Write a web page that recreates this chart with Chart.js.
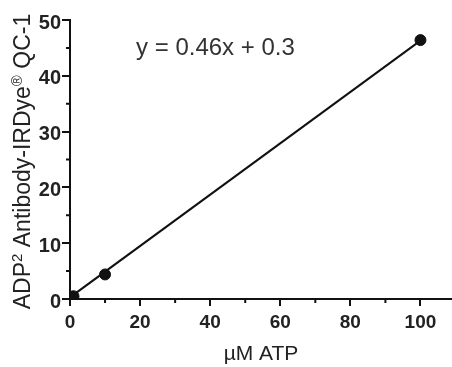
<!DOCTYPE html>
<html>
<head>
<meta charset="utf-8">
<script src="https://cdn.jsdelivr.net/npm/chart.js@4"></script>
<style>
  html, body { margin: 0; padding: 0; background: #fff; }
  #wrap { width: 452px; height: 367px; }
</style>
</head>
<body>
<div id="wrap"><canvas id="atpChart"></canvas></div>
<script>
// measured points (µM ATP vs signal)
const atpConc = [0, 0.1, 0.5, 1, 10, 100];
const signal = [0, 0.1, 0.3, 0.5, 4.4, 46.4];

// linear fit y = 0.46x + 0.3, endpoints
const fitX = [0, 100];
const fitY = [0.3, 46.3];
const fitLabel = "y = 0.46x + 0.3";

const xMajor = [0, 20, 40, 60, 80, 100];
const xMinor = [10, 30, 50, 70, 90];
const yMajor = [0, 10, 20, 30, 40, 50];
const yMinor = [5, 15, 25, 35, 45];

// y title pieces: [text, superscript?]
const yTitleParts = [["ADP", false], ["2", true], [" Antibody-IRDye", false], ["®", true], [" QC-1", false]];

const FONT = "'Liberation Sans', Arial, sans-serif";

// short minor ticks, equation text, y title with superscripts
const extras = {
  id: "extras",
  afterDraw(chart) {
    const { ctx, scales: { x, y } } = chart;
    ctx.save();
    ctx.strokeStyle = "#111";
    ctx.lineWidth = 2;
    ctx.beginPath();
    xMinor.forEach(v => {
      const px = x.getPixelForValue(v);
      ctx.moveTo(px, y.bottom);
      ctx.lineTo(px, y.bottom + 4);
    });
    yMinor.forEach(v => {
      const py = y.getPixelForValue(v);
      ctx.moveTo(x.left, py);
      ctx.lineTo(x.left - 4, py);
    });
    ctx.stroke();

    ctx.fillStyle = "#333";
    ctx.font = "24px " + FONT;
    ctx.textAlign = "center";
    ctx.textBaseline = "alphabetic";
    ctx.fillText(fitLabel, x.getPixelForValue(41.5), y.getPixelForValue(43.8));

    // y axis title, rotated
    const big = "23px " + FONT, small = "15px " + FONT;
    let total = 0;
    yTitleParts.forEach(([t, sup]) => {
      ctx.font = sup ? small : big;
      total += ctx.measureText(t).width;
    });
    ctx.translate(30, (y.top + y.bottom) / 2 + 2);
    ctx.rotate(-Math.PI / 2);
    ctx.fillStyle = "#222";
    ctx.textAlign = "left";
    let cx = -total / 2;
    yTitleParts.forEach(([t, sup]) => {
      ctx.font = sup ? small : big;
      ctx.fillText(t, cx, sup ? -8 : 0);
      cx += ctx.measureText(t).width;
    });
    ctx.restore();
  }
};

new Chart(document.getElementById("atpChart"), {
  type: "scatter",
  data: {
    datasets: [
      {
        label: "fit",
        data: fitX.map((v, i) => ({ x: v, y: fitY[i] })),
        showLine: true,
        borderColor: "#111",
        borderWidth: 2,
        pointRadius: 0,
        order: 2
      },
      {
        label: "data",
        data: atpConc.map((v, i) => ({ x: v, y: signal[i] })),
        backgroundColor: "#111",
        borderColor: "#111",
        pointRadius: 5.5,
        order: 1
      }
    ]
  },
  options: {
    responsive: true,
    maintainAspectRatio: false,
    animation: false,
    layout: { autoPadding: false, padding: { top: 20, right: 0, left: 0, bottom: 0 } },
    plugins: { legend: { display: false }, tooltip: { enabled: false } },
    scales: {
      x: {
        type: "linear",
        min: 0,
        max: 109,
        afterFit: s => { s.height = 68; },
        afterBuildTicks: s => { s.ticks = xMajor.map(v => ({ value: v })); },
        border: { display: true, color: "#111", width: 2 },
        grid: { drawOnChartArea: false, drawTicks: true, tickLength: 7, color: "#111", lineWidth: 2 },
        ticks: {
          padding: 5,
          color: "#222",
          font: { family: FONT, size: 19, weight: "bold" },
          maxRotation: 0
        },
        title: {
          display: true,
          text: "µM ATP",
          color: "#222",
          font: { family: FONT, size: 21 },
          padding: { top: 0, bottom: 0 }
        }
      },
      y: {
        type: "linear",
        min: 0,
        max: 50,
        afterFit: s => { s.width = 70; },
        afterBuildTicks: s => { s.ticks = yMajor.map(v => ({ value: v })); },
        border: { display: true, color: "#111", width: 2 },
        grid: { drawOnChartArea: false, drawTicks: true, tickLength: 8, color: "#111", lineWidth: 2 },
        ticks: {
          padding: 1,
          labelOffset: 3,
          color: "#222",
          font: { family: FONT, size: 20, weight: "bold" }
        },
        title: { display: false }
      }
    }
  },
  plugins: [extras]
});
</script>
</body>
</html>
